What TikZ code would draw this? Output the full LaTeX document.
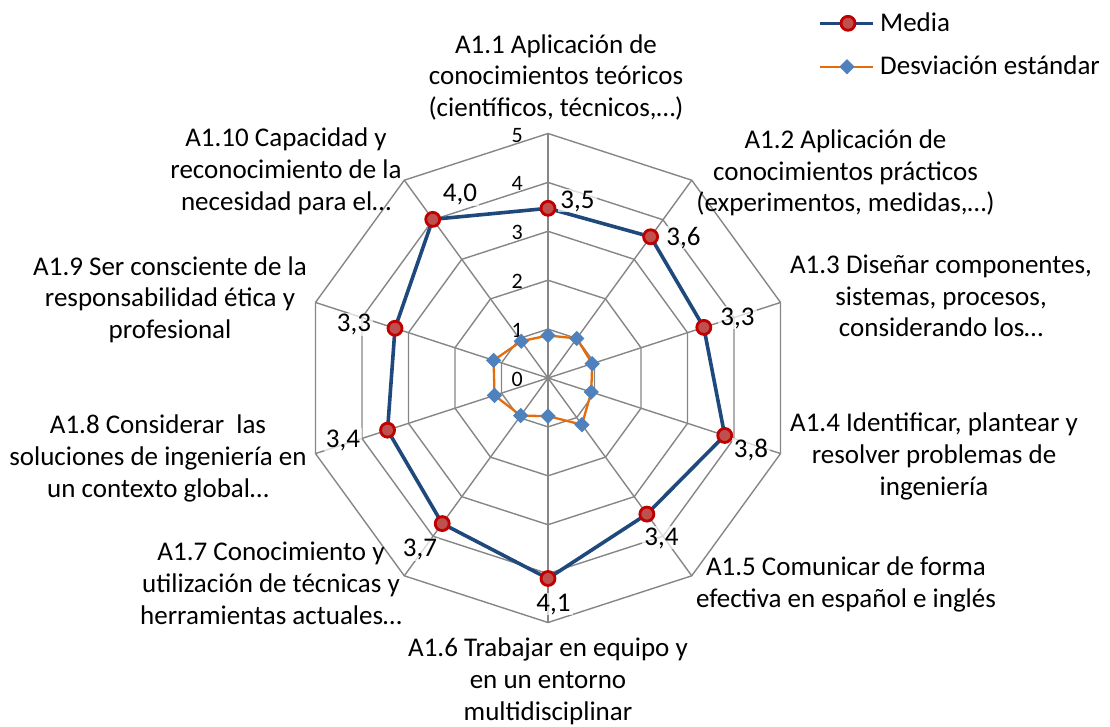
\documentclass[tikz,border=0pt]{standalone}
\usepackage{fontspec}
\setmainfont{Carlito}
\usetikzlibrary{shapes.geometric}
\definecolor{gridgray}{RGB}{134,134,134}
\definecolor{mediablue}{RGB}{31,73,125}
\definecolor{mediaedge}{RGB}{192,0,0}
\definecolor{mediafill}{RGB}{192,80,77}
\definecolor{sdorange}{RGB}{228,108,10}
\definecolor{sdblue}{RGB}{79,129,189}
\begin{document}
\begin{tikzpicture}[x=1pt,y=-1pt,
  gridline/.style={draw=gridgray, line width=1.4pt},
  medialine/.style={draw=mediablue, line width=3.6pt, line join=round},
  sdline/.style={draw=sdorange, line width=2.3pt, line join=round},
  mediamark/.style={circle, draw=mediaedge, fill=mediafill, line width=2.8pt, minimum size=14pt, inner sep=0pt},
  sdmark/.style={diamond, fill=sdblue, minimum size=15.5pt, inner sep=0pt},
  cat/.style={font=\fontsize{27}{31.7}\selectfont, align=center, anchor=base, inner sep=0pt},
  val/.style={font=\fontsize{27}{31.7}\selectfont, anchor=base, fill=white, fill opacity=0.7, text opacity=1, inner xsep=2pt, inner ysep=1pt},
  ticklab/.style={font=\fontsize{22}{26}\selectfont, anchor=base east, inner sep=0pt},
  legtext/.style={font=\fontsize{27}{31.7}\selectfont, anchor=base west, inner sep=0pt},
]
\useasboundingbox (0,0) rectangle (1110,726);
\coordinate (c) at (548,378);
% grid rings
\foreach \k in {1,...,5} {
  \draw[gridline] ({548+48.9*\k*cos(90)},{378-48.9*\k*sin(90)})
    \foreach \i in {1,...,9} { -- ({548+48.9*\k*cos(90-36*\i)},{378-48.9*\k*sin(90-36*\i)}) } -- cycle;
}
% spokes
\foreach \i in {0,...,9} {
  \coordinate (s\i) at ({548+244.5*cos(90-36*\i)},{378-244.5*sin(90-36*\i)});
  \draw[gridline] (c) -- (s\i);
}
% tick labels
\foreach \k in {0,...,5} {
  \node[ticklab] (t\k) at (523,{378-48.9*\k+8.5}) {\k};
}
% media series
\foreach \v [count=\j from 0] in {3.47,3.57,3.35,3.8,3.44,4.1,3.68,3.45,3.29,4.01} {
  \coordinate (pm\j) at ({548+48.9*\v*cos(90-36*\j)},{378-48.9*\v*sin(90-36*\j)});
}
% sd series
\foreach \v [count=\j from 0] in {0.87,1.0,0.95,0.93,1.18,0.78,0.95,1.15,1.17,0.93} {
  \coordinate (ps\j) at ({548+48.9*\v*cos(90-36*\j)},{378-48.9*\v*sin(90-36*\j)});
}
\draw[medialine] (pm0) \foreach \i in {1,...,9} { -- (pm\i) } -- cycle;
\draw[sdline] (ps0) \foreach \i in {1,...,9} { -- (ps\i) } -- cycle;
\foreach \i in {0,...,9} {
  \node[mediamark] (m\i) at (pm\i) {};
  \node[sdmark] (d\i) at (ps\i) {};
}
% data labels
\node[val] (v0) at (577.5,208) {3,5};
\node[val] (v1) at (683.5,245) {3,6};
\node[val] (v2) at (737.5,325) {3,3};
\node[val] (v3) at (751,457.5) {3,8};
\node[val] (v4) at (661.5,545) {3,4};
\node[val] (v5) at (553.5,611) {4,1};
\node[val] (v6) at (420,556.7) {3,7};
\node[val] (v7) at (343,447) {3,4};
\node[val] (v8) at (354,331.7) {3,3};
\node[val] (v9) at (460,201.7) {4,0};
% category labels (anchor = baseline of last line)
\node[cat] (c0) at (556,116.5) {A1.1 Aplicación de\\conocimientos teóricos\\(científicos, técnicos,…)};
\node[cat] (c1) at (845.5,211.7) {A1.2 Aplicación de\\conocimientos prácticos\\(experimentos, medidas,…)};
\node[cat] (c2) at (941,336.7) {A1.3 Diseñar componentes,\\sistemas, procesos,\\considerando los…};
\node[cat] (c3) at (934,495) {A1.4 Identificar, plantear y\\resolver problemas de\\ingeniería};
\node[cat] (c4) at (846,607.5) {A1.5 Comunicar de forma\\efectiva en español e inglés};
\node[cat] (c5) at (548,720) {A1.6 Trabajar en equipo y\\en un entorno\\multidisciplinar};
\node[cat] (c6) at (271,624) {A1.7 Conocimiento y\\utilización de técnicas y\\herramientas actuales…};
\node[cat] (c7) at (158,497) {A1.8 Considerar\ \ las\\soluciones de ingeniería en\\un contexto global…};
\node[cat] (c8) at (170,338.5) {A1.9 Ser consciente de la\\responsabilidad ética y\\profesional};
\node[cat] (c9) at (286,210) {A1.10 Capacidad y\\reconocimiento de la\\necesidad para el…};
% legend
\coordinate (la1) at (820,23.3);
\coordinate (lb1) at (873.3,23.3);
\draw[medialine, line cap=butt] (la1) -- (lb1);
\node[mediamark] (lm) at (848,23.3) {};
\node[legtext] (lt1) at (880,31) {Media};
\coordinate (la2) at (820,66.7);
\coordinate (lb2) at (873.3,66.7);
\draw[sdline] (la2) -- (lb2);
\node[sdmark] (ld) at (847,66.7) {};
\node[legtext] (lt2) at (880,74) {Desviación estándar};
\end{tikzpicture}
\end{document}
